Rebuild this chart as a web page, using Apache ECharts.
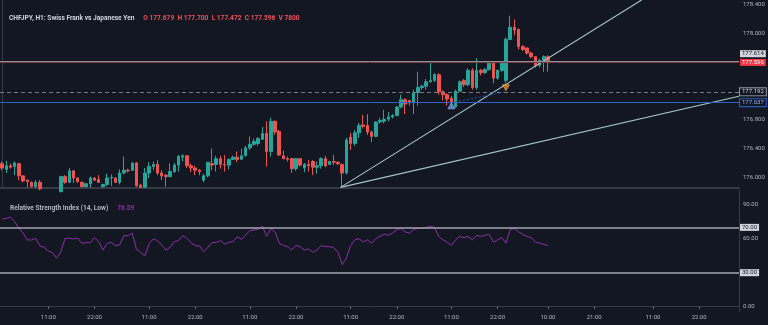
<!DOCTYPE html>
<html>
<head>
<meta charset="utf-8">
<script src="https://cdn.jsdelivr.net/npm/echarts@6/dist/echarts.min.js"></script>
<style>
  html, body { margin: 0; padding: 0; background: #131722; }
  #chart { width: 768px; height: 325px; }
</style>
</head>
<body>
<div id="chart"></div>
<script>
// ---- instrument / panel text ----
const symbolTitle = 'CHFJPY, H1: Swiss Frank vs Japanese Yen';
const rsiTitle = 'Relative Strength Index (14, Low)';
const rsiLegendValue = 76.59;
const lastVolume = 7800;

// ---- hourly time slots (first slot is 00:00) ----
const slotCount = 176;
const hours = [];
for (let i = 0; i < slotCount; i++) hours.push(String(i % 24).padStart(2, '0') + ':00');
const timeTickSlots = [11, 22, 35, 46, 59, 70, 83, 94, 107, 118, 130, 141, 155, 166];

// ---- H1 candles ----
const opens = [176.19,176.11,176.16,176.15,176.19,176.02,175.96,175.93,175.87,175.93,
175.84,175.80,175.78,175.82,175.80,176.01,175.93,176.09,175.99,175.93,
175.87,175.91,175.99,175.97,175.87,175.90,175.99,175.99,175.93,176.06,
176.10,176.10,176.20,175.89,175.86,176.06,176.15,176.18,176.06,176.03,
176.01,176.08,176.17,176.28,176.30,176.16,176.13,176.10,175.96,176.02,
176.19,176.18,176.26,176.18,176.17,176.25,176.28,176.25,176.30,176.41,
176.46,176.47,176.53,176.61,176.36,176.78,176.64,176.30,176.26,176.26,
176.12,176.26,176.13,176.18,176.22,176.14,176.16,176.26,176.18,176.22,
176.21,176.18,176.06,176.56,176.47,176.62,176.73,176.72,176.63,176.57,
176.77,176.78,176.81,176.84,176.86,176.98,177.08,177.07,177.04,177.18,
177.25,177.27,177.33,177.35,177.43,177.19,177.15,177.10,176.98,177.20,
177.35,177.29,177.49,177.25,177.49,177.46,177.50,177.59,177.38,177.49,
177.35,177.92,178.09,178.06,177.82,177.80,177.73,177.68,177.56,177.63,
177.679];
const highs = [176.22,176.23,176.19,176.22,176.20,176.03,175.97,175.94,175.96,175.96,
175.85,175.83,175.84,175.845,176.02,176.03,176.13,176.10,176.00,175.94,
175.92,176.01,176.00,176.03,175.91,176.05,176.04,176.00,176.11,176.29,
176.12,176.21,176.21,175.91,176.13,176.21,176.22,176.24,176.10,176.04,
176.195,176.20,176.31,176.32,176.31,176.19,176.16,176.11,176.05,176.21,
176.40,176.30,176.30,176.31,176.26,176.30,176.36,176.40,176.44,176.57,
176.54,176.56,176.70,176.78,176.83,176.79,176.66,176.37,176.29,176.27,
176.27,176.27,176.20,176.24,176.24,176.22,176.28,176.30,176.23,176.31,
176.22,176.19,176.55,176.62,176.66,176.76,176.87,176.88,176.65,176.78,
176.83,176.94,176.91,176.88,176.99,177.15,177.10,177.08,177.22,177.47,
177.29,177.37,177.62,177.45,177.45,177.21,177.17,177.13,177.22,177.35,
177.37,177.52,177.52,177.66,177.51,177.52,177.61,177.61,177.50,177.62,
177.95,178.25,178.20,178.07,177.84,177.81,177.75,177.69,177.65,177.70,
177.700];
const lows = [176.10,176.06,176.12,176.03,175.96,175.93,175.86,175.86,175.85,175.82,
175.76,175.74,175.75,175.77,175.79,175.91,175.92,175.92,175.92,175.86,
175.86,175.86,175.95,175.92,175.86,175.88,175.88,175.92,175.90,176.04,
176.07,176.09,175.87,175.85,175.85,175.99,176.10,176.03,175.96,175.87,
176.00,176.06,176.08,176.22,176.13,176.07,176.03,176.03,175.93,176.00,
176.10,176.08,176.12,176.08,176.11,176.24,176.21,176.24,176.29,176.38,
176.44,176.44,176.52,176.15,176.29,176.59,176.30,176.25,176.22,176.06,
176.09,176.15,176.07,176.08,176.03,176.05,176.12,176.14,176.17,176.17,
176.17,175.87,176.04,176.38,176.44,176.55,176.68,176.59,176.49,176.56,
176.75,176.75,176.78,176.82,176.85,176.96,176.88,177.00,176.88,177.00,
177.22,177.22,177.32,177.33,177.15,177.07,177.00,176.97,176.97,177.19,
177.26,177.27,177.22,177.22,177.42,177.44,177.49,177.31,177.36,177.47,
177.31,177.91,177.98,177.78,177.76,177.71,177.66,177.53,177.53,177.47,
177.472];
const closes = [176.13,176.16,176.14,176.20,176.02,175.95,175.94,175.87,175.93,175.84,
175.80,175.78,175.82,175.80,176.01,175.93,176.09,175.99,175.94,175.87,
175.91,175.99,175.96,175.93,175.90,175.99,176.00,175.93,176.06,176.10,
176.09,176.20,175.88,175.86,176.06,176.15,176.18,176.06,176.02,176.01,
176.08,176.17,176.29,176.30,176.16,176.13,176.10,176.08,176.02,176.21,
176.17,176.26,176.18,176.17,176.25,176.28,176.25,176.30,176.41,176.46,
176.50,176.54,176.61,176.36,176.78,176.63,176.31,176.26,176.25,176.12,
176.26,176.17,176.18,176.16,176.14,176.16,176.26,176.16,176.22,176.21,
176.19,176.06,176.52,176.47,176.62,176.72,176.71,176.63,176.57,176.77,
176.79,176.81,176.84,176.86,176.98,177.08,177.02,177.04,177.18,177.25,
177.27,177.33,177.35,177.43,177.19,177.15,177.09,177.05,177.20,177.33,
177.29,177.49,177.25,177.49,177.46,177.50,177.59,177.38,177.49,177.59,
177.92,178.09,178.05,177.82,177.78,177.73,177.68,177.56,177.63,177.68,
177.596];

// ---- RSI(14, Low) ----
const rsi = [77.1,78,78.9,75,69.2,64.8,58.9,58.9,60.4,53.6,
52.4,49.2,47.7,42.7,48.5,60.4,60.4,59.8,60.4,55.9,
56.5,56.5,60.9,57.4,50,55.9,56.8,53.8,54.5,62.7,
62.7,64.8,50.6,47.7,45,55.3,59.8,58.3,54.5,50,
52.4,57.4,58.3,62.7,60.4,56.5,53.8,53.6,48.5,52.4,
56.5,56.8,58.3,55.3,56.8,57.4,61.8,59.5,63.3,67.1,
67.7,68.3,71,62,69,66,56,54,53,50,
54,53,50,51,48,50,54,53,53,52,
48,37,43,54,59,60,57,59,56,60,
62,64,63,65,68,69,66,65,68,69,
69,70,71,70,62,59,57,54,59,62,
61,62,59,63,62,63,64,57,59,61,
56,68,69,66,64,62,61,57,56,55,
54];

// ---- axis ticks ----
const priceTicks = [176.0, 176.4, 176.8, 177.2, 177.6, 178.0, 178.4];
const rsiTicks = [0, 30, 60, 90];
const rsiBands = [70, 30];

// ---- quotes, position and drawings ----
const askPrice = 177.614;
const entryPrice = 177.037;
const exitPrice = 177.192;
const tradeLots = 0.03;
const entrySlot = 107;
const exitSlot = 120;
const trendAnchor = [80.6, 175.86];
const trendTargets = [[152.3, 178.47], [175.5, 177.13]];

// ---------------------------------------------------------------
const last = closes.length - 1;
const bidPrice = closes[last];
const candles = opens.map((o, i) => [o, closes[i], lows[i], highs[i]]);
const tradePoints = Math.round((exitPrice - entryPrice) * 1000);
const font = 'Roboto, "Liberation Sans", sans-serif';
const showSlot = (idx) => timeTickSlots.indexOf(idx) !== -1;

function boxLabel(text, bg, fg, border, extra) {
  return Object.assign({
    show: true,
    position: 'end',
    distance: 1,
    formatter: text,
    backgroundColor: bg,
    color: fg,
    borderColor: border || bg,
    borderWidth: border ? 1 : 0,
    padding: [1, 2, 0, 2],
    fontSize: 6,
    fontFamily: font
  }, extra || {});
}

const header =
  '{a|' + symbolTitle + '}  {b|O ' + opens[last].toFixed(3) +
  '  H ' + highs[last].toFixed(3) + '  L ' + lows[last].toFixed(3) +
  '  C ' + closes[last].toFixed(3) + '  V ' + lastVolume + '}';

const option = {
  backgroundColor: '#131722',
  animation: false,
  textStyle: { fontFamily: font },
  title: [
    {
      left: 4, top: 4, text: header,
      textStyle: { rich: {
        a: { color: '#d1d4dc', fontSize: 6.6, fontFamily: font },
        b: { color: '#f0505c', fontSize: 6.6, fontFamily: font }
      } }
    },
    {
      left: 5, top: 194,
      text: '{a|' + rsiTitle + '}  {b|' + rsiLegendValue.toFixed(2) + '}',
      textStyle: { rich: {
        a: { color: '#b2b5be', fontSize: 6.6, fontFamily: font },
        b: { color: '#9c27b0', fontSize: 6.6, fontFamily: font }
      } }
    }
  ],
  grid: [
    { left: 0, right: 29, top: 0, height: 187.5 },
    { left: 0, right: 29, top: 190, height: 121.7 }
  ],
  xAxis: [
    {
      type: 'category', gridIndex: 0, data: hours,
      axisLine: { show: true, lineStyle: { color: '#363a45', width: 2 } },
      axisTick: { show: false }, axisLabel: { show: false }, splitLine: { show: false }
    },
    {
      type: 'category', gridIndex: 1, data: hours,
      axisLine: { show: true, lineStyle: { color: '#363a45', width: 1 } },
      axisTick: { show: true, interval: showSlot, length: 2, alignWithLabel: true, lineStyle: { color: '#787b86' } },
      axisLabel: { interval: showSlot, color: '#b2b5be', fontSize: 6, margin: 3, fontFamily: font },
      splitLine: { show: false }
    },
    { type: 'value', gridIndex: 0, min: -0.5, max: slotCount - 0.5, show: false }
  ],
  yAxis: [
    {
      type: 'value', gridIndex: 0, position: 'right',
      min: 175.858, max: 178.4696,
      axisLine: { show: true, lineStyle: { color: '#363a45' } },
      axisTick: { show: false },
      axisLabel: { customValues: priceTicks, formatter: (v) => v.toFixed(3), color: '#b2b5be', fontSize: 6, margin: 4, fontFamily: font },
      splitLine: { show: false }
    },
    {
      type: 'value', gridIndex: 1, position: 'right',
      min: -4.41, max: 102.97,
      axisLine: { show: true, lineStyle: { color: '#363a45' } },
      axisTick: { show: false },
      axisLabel: { customValues: rsiTicks, formatter: (v) => v.toFixed(2), color: '#b2b5be', fontSize: 6, margin: 4, fontFamily: font },
      splitLine: { show: false }
    }
  ],
  series: [
    {
      name: 'CHFJPY', type: 'candlestick', xAxisIndex: 0, yAxisIndex: 0,
      data: candles, barWidth: 3, clip: true,
      itemStyle: {
        color: '#26a69a', color0: '#ef5350',
        borderColor: '#26a69a', borderColor0: '#ef5350', borderWidth: 1
      },
      markLine: {
        silent: true, symbol: 'none', animation: false,
        data: [
          { yAxis: askPrice, lineStyle: { color: '#8a8d96', width: 1, type: 'solid' },
            label: boxLabel(askPrice.toFixed(3), '#d1d4dc', '#131722', null, { offset: [0, -8] }) },
          { yAxis: bidPrice, lineStyle: { color: '#7e3a42', width: 1, type: 'solid' },
            label: boxLabel(bidPrice.toFixed(3), '#f23645', '#ffffff') },
          { yAxis: exitPrice, lineStyle: { color: '#787b86', width: 1, type: [4, 3] },
            label: boxLabel(exitPrice.toFixed(3), '#131722', '#d1d4dc', '#9598a1') },
          { yAxis: exitPrice, lineStyle: { opacity: 0 },
            label: { show: true, position: 'insideStartTop', distance: [4, 1], formatter: tradePoints + ' points',
                     color: '#4f7fe0', fontSize: 6, fontFamily: font } },
          { yAxis: entryPrice, lineStyle: { color: '#2f5fc8', width: 1, type: 'solid' },
            label: boxLabel(entryPrice.toFixed(3), '#131722', '#9ab4f5', '#2f5fc8') },
          { yAxis: entryPrice, lineStyle: { opacity: 0 },
            label: { show: true, position: 'insideStartTop', distance: [4, 1],
                     formatter: 'BUY ' + tradeLots.toFixed(2) + ' at ' + entryPrice.toFixed(3),
                     color: '#4f7fe0', fontSize: 6, fontFamily: font } }
        ]
      },
      z: 3
    },
    {
      name: 'trend-a', type: 'line', xAxisIndex: 2, yAxisIndex: 0,
      data: [trendAnchor, trendTargets[0]], showSymbol: false, clip: true, silent: true,
      lineStyle: { color: '#a3c6ca', width: 1.1 }, z: 4
    },
    {
      name: 'trend-b', type: 'line', xAxisIndex: 2, yAxisIndex: 0,
      data: [trendAnchor, trendTargets[1]], showSymbol: false, clip: true, silent: true,
      lineStyle: { color: '#a3c6ca', width: 1.1 }, z: 4
    },
    {
      name: 'trade', type: 'line', xAxisIndex: 2, yAxisIndex: 0,
      data: [[entrySlot, entryPrice], [exitSlot, exitPrice]], showSymbol: false, silent: true,
      lineStyle: { color: '#2f5fc8', width: 1, type: [2, 2], opacity: 0.8 }, z: 4
    },
    {
      name: 'buy', type: 'scatter', xAxisIndex: 2, yAxisIndex: 0,
      data: [[entrySlot, entryPrice]], symbol: 'triangle', symbolSize: [7, 6], symbolOffset: [0, 3],
      itemStyle: { color: '#5b8def', borderColor: '#cfdcfb', borderWidth: 0.6 }, silent: true, z: 6
    },
    {
      name: 'sell', type: 'scatter', xAxisIndex: 2, yAxisIndex: 0,
      data: [[exitSlot, exitPrice]], symbol: 'triangle', symbolRotate: 180, symbolSize: [7, 6], symbolOffset: [0, -4],
      itemStyle: { color: '#f57c00', borderColor: '#ffd0a8', borderWidth: 0.6 }, silent: true, z: 6
    },
    {
      name: 'RSI', type: 'line', xAxisIndex: 1, yAxisIndex: 1,
      data: rsi, showSymbol: false, silent: true,
      lineStyle: { color: '#8e2fa8', width: 1 },
      markLine: {
        silent: true, symbol: 'none', animation: false,
        data: rsiBands.map((b) => ({
          yAxis: b,
          lineStyle: { color: '#a3a6af', width: 1.5, type: 'solid' },
          label: boxLabel(b.toFixed(2), '#d1d4dc', '#131722')
        }))
      }
    }
  ]
};

const chart = echarts.init(document.getElementById('chart'), null, { renderer: 'canvas' });
chart.setOption(option);
</script>
</body>
</html>
